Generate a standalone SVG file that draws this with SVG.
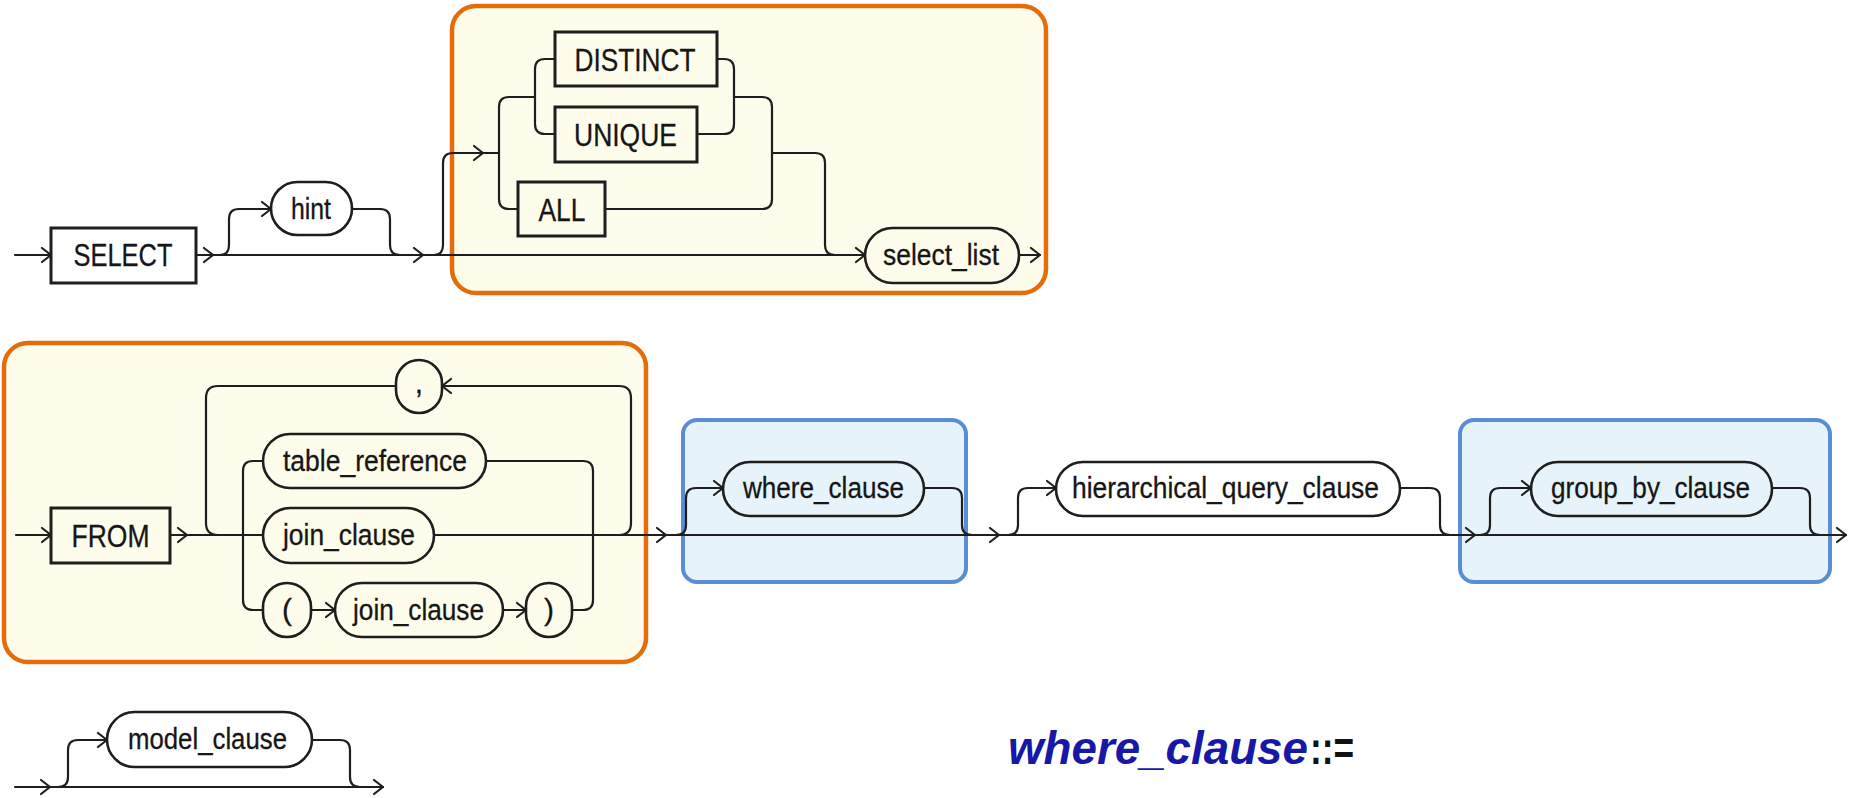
<svg xmlns="http://www.w3.org/2000/svg" xmlns:xlink="http://www.w3.org/1999/xlink" width="1853" height="798" viewBox="0 0 1853 798">
  <style>
    .ln { fill: none; stroke: #1e1e1e; stroke-width: 2.2; stroke-linecap: round; stroke-linejoin: round; }
    .box { fill: none; stroke: #1e1e1e; stroke-width: 3; }
    .ov { fill: none; stroke: #1e1e1e; stroke-width: 2.6; }
    .t { font-family: "Liberation Sans", Arial, sans-serif; font-size: 30px; fill: #161616; stroke: #161616; stroke-width: 0.3; text-anchor: middle; }
    .kw { font-size: 32px; }
    .hl-o { fill: #fefcea; stroke: #e46c0a; stroke-width: 4.5; }
    .hl-b { fill: #e7f3fa; stroke: #5a8dd5; stroke-width: 4; }
    .title { font-family: "Liberation Sans", Arial, sans-serif; font-weight: bold; font-size: 46px; }
  </style>
  <defs>
    <path id="arw" class="ln" d="M-9,-7 L0,0 L-9,7"/>
    <path id="arwL" class="ln" d="M9,-7 L0,0 L9,7"/>
  </defs>

  <rect width="1853" height="798" fill="#ffffff"/>

  <!-- highlighted regions -->
  <g id="highlights">
    <rect class="hl-o" x="452" y="6" width="594" height="287" rx="24"/>
    <rect class="hl-o" x="4" y="343" width="642" height="319" rx="24"/>
    <rect class="hl-b" x="683" y="420" width="283" height="162" rx="14"/>
    <rect class="hl-b" x="1460" y="420" width="370" height="162" rx="14"/>
  </g>

  <g id="connectors">
    <!-- row 1: SELECT [hint] [DISTINCT|UNIQUE|ALL] select_list -->
    <path class="ln" d="M15,255 H51 M196,255 H865 M1019,255 H1040"/>
    <path class="ln" d="M220,255 Q229,255 229,245 V219 Q229,209 239,209 H271"/>
    <path class="ln" d="M352,209 H380 Q390,209 390,219 V245 Q390,255 400,255"/>
    <path class="ln" d="M434,255 Q443,255 443,245 V163 Q443,153 453,153 H499"/>
    <path class="ln" d="M535,97 H509 Q499,97 499,107 V199 Q499,209 509,209 H518"/>
    <path class="ln" d="M555,59 H545 Q535,59 535,69 V124 Q535,134 545,134 H555"/>
    <path class="ln" d="M717,59 H724 Q734,59 734,69 V124 Q734,134 724,134 H697"/>
    <path class="ln" d="M734,97 H762 Q772,97 772,107 V199 Q772,209 762,209 H605"/>
    <path class="ln" d="M772,153 H815 Q825,153 825,163 V245 Q825,255 835,255"/>
    <use href="#arw" x="51" y="255"/>
    <use href="#arw" x="213" y="255"/>
    <use href="#arw" x="271" y="209"/>
    <use href="#arw" x="423" y="255"/>
    <use href="#arw" x="483" y="153"/>
    <use href="#arw" x="865" y="255"/>
    <use href="#arw" x="1040" y="255"/>

    <!-- row 2: FROM list, optional clauses -->
    <path class="ln" d="M16,535 H51 M170,535 H263 M434,535 H1846"/>
    <path class="ln" d="M396,386 H218 Q206,386 206,398 V523 Q206,535 218,535"/>
    <path class="ln" d="M619,535 Q631,535 631,523 V398 Q631,386 619,386 H442"/>
    <path class="ln" d="M263,461 H253 Q243,461 243,471 V600 Q243,610 253,610 H263"/>
    <path class="ln" d="M486,461 H583 Q593,461 593,471 V600 Q593,610 583,610 H572"/>
    <path class="ln" d="M311,610 H335 M503,610 H526"/>
    <path class="ln" d="M676,535 Q686,535 686,525 V498 Q686,488 696,488 H723"/>
    <path class="ln" d="M924,488 H952 Q962,488 962,498 V525 Q962,535 972,535"/>
    <path class="ln" d="M1008,535 Q1018,535 1018,525 V498 Q1018,488 1028,488 H1056"/>
    <path class="ln" d="M1400,488 H1430 Q1440,488 1440,498 V525 Q1440,535 1450,535"/>
    <path class="ln" d="M1480,535 Q1490,535 1490,525 V498 Q1490,488 1500,488 H1531"/>
    <path class="ln" d="M1772,488 H1800 Q1810,488 1810,498 V525 Q1810,535 1820,535"/>
    <use href="#arw" x="51" y="535"/>
    <use href="#arw" x="187" y="535"/>
    <use href="#arwL" x="442" y="386"/>
    <use href="#arw" x="335" y="610"/>
    <use href="#arw" x="526" y="610"/>
    <use href="#arw" x="666" y="535"/>
    <use href="#arw" x="723" y="488"/>
    <use href="#arw" x="999" y="535"/>
    <use href="#arw" x="1056" y="488"/>
    <use href="#arw" x="1475" y="535"/>
    <use href="#arw" x="1531" y="488"/>
    <use href="#arw" x="1846" y="535"/>

    <!-- row 3: optional model_clause -->
    <path class="ln" d="M15,787 H383"/>
    <path class="ln" d="M58,787 Q68,787 68,777 V750 Q68,740 78,740 H107"/>
    <path class="ln" d="M312,740 H340 Q350,740 350,750 V777 Q350,787 360,787"/>
    <use href="#arw" x="50" y="787"/>
    <use href="#arw" x="107" y="740"/>
    <use href="#arw" x="383" y="787"/>
  </g>

  <!-- keywords (rectangles) -->
  <g id="select">
    <rect class="box" x="51" y="228" width="145" height="55"/>
    <text class="t kw" x="123" y="266" textLength="99" lengthAdjust="spacingAndGlyphs">SELECT</text>
  </g>
  <g id="distinct">
    <rect class="box" x="555" y="32" width="162" height="54"/>
    <text class="t kw" x="635" y="71" textLength="121" lengthAdjust="spacingAndGlyphs">DISTINCT</text>
  </g>
  <g id="unique">
    <rect class="box" x="555" y="107" width="142" height="55"/>
    <text class="t kw" x="625.5" y="146" textLength="103" lengthAdjust="spacingAndGlyphs">UNIQUE</text>
  </g>
  <g id="all">
    <rect class="box" x="518" y="182" width="87" height="54"/>
    <text class="t kw" x="562" y="221" textLength="47" lengthAdjust="spacingAndGlyphs">ALL</text>
  </g>
  <g id="from">
    <rect class="box" x="51" y="508" width="119" height="55"/>
    <text class="t kw" x="110.5" y="547" textLength="78" lengthAdjust="spacingAndGlyphs">FROM</text>
  </g>

  <!-- non-terminals (rounded) -->
  <g id="hint">
    <rect class="ov" x="271" y="182" width="81" height="53" rx="26.5"/>
    <text class="t" x="311" y="219" textLength="40" lengthAdjust="spacingAndGlyphs">hint</text>
  </g>
  <g id="select_list">
    <rect class="ov" x="865" y="228" width="154" height="55" rx="27.5"/>
    <text class="t" x="941" y="265" textLength="116" lengthAdjust="spacingAndGlyphs">select_list</text>
  </g>
  <g id="comma">
    <rect class="ov" x="396" y="360" width="46" height="53" rx="23"/>
    <text class="t" x="419" y="393">,</text>
  </g>
  <g id="table_reference">
    <rect class="ov" x="263" y="434" width="223" height="54" rx="27"/>
    <text class="t" x="375" y="471" textLength="184" lengthAdjust="spacingAndGlyphs">table_reference</text>
  </g>
  <g id="join_clause">
    <rect class="ov" x="263" y="508" width="171" height="55" rx="27.5"/>
    <text class="t" x="349" y="545" textLength="132" lengthAdjust="spacingAndGlyphs">join_clause</text>
  </g>
  <g id="lparen">
    <rect class="ov" x="263" y="583" width="48" height="54" rx="24"/>
    <text class="t" x="287" y="620">(</text>
  </g>
  <g id="join_clause_nested">
    <rect class="ov" x="335" y="583" width="168" height="54" rx="27"/>
    <text class="t" x="418.5" y="620" textLength="131" lengthAdjust="spacingAndGlyphs">join_clause</text>
  </g>
  <g id="rparen">
    <rect class="ov" x="526" y="583" width="46" height="54" rx="23"/>
    <text class="t" x="549" y="620">)</text>
  </g>
  <g id="where_clause">
    <rect class="ov" x="723" y="462" width="201" height="54" rx="27"/>
    <text class="t" x="823.5" y="498" textLength="161" lengthAdjust="spacingAndGlyphs">where_clause</text>
  </g>
  <g id="hierarchical_query_clause">
    <rect class="ov" x="1056" y="462" width="344" height="54" rx="27"/>
    <text class="t" x="1225.5" y="498" textLength="307" lengthAdjust="spacingAndGlyphs">hierarchical_query_clause</text>
  </g>
  <g id="group_by_clause">
    <rect class="ov" x="1531" y="462" width="241" height="54" rx="27"/>
    <text class="t" x="1650.5" y="498" textLength="199" lengthAdjust="spacingAndGlyphs">group_by_clause</text>
  </g>
  <g id="model_clause">
    <rect class="ov" x="107" y="712" width="205" height="55" rx="27.5"/>
    <text class="t" x="207.5" y="749" textLength="159" lengthAdjust="spacingAndGlyphs">model_clause</text>
  </g>

  <!-- production heading -->
  <g id="heading">
    <text class="title" x="1008" y="764" fill="#1818a8" font-style="italic" textLength="300" lengthAdjust="spacingAndGlyphs">where_clause</text>
    <text class="title" x="1310" y="764" fill="#111" font-size="42" textLength="44" lengthAdjust="spacingAndGlyphs">::=</text>
  </g>
</svg>
